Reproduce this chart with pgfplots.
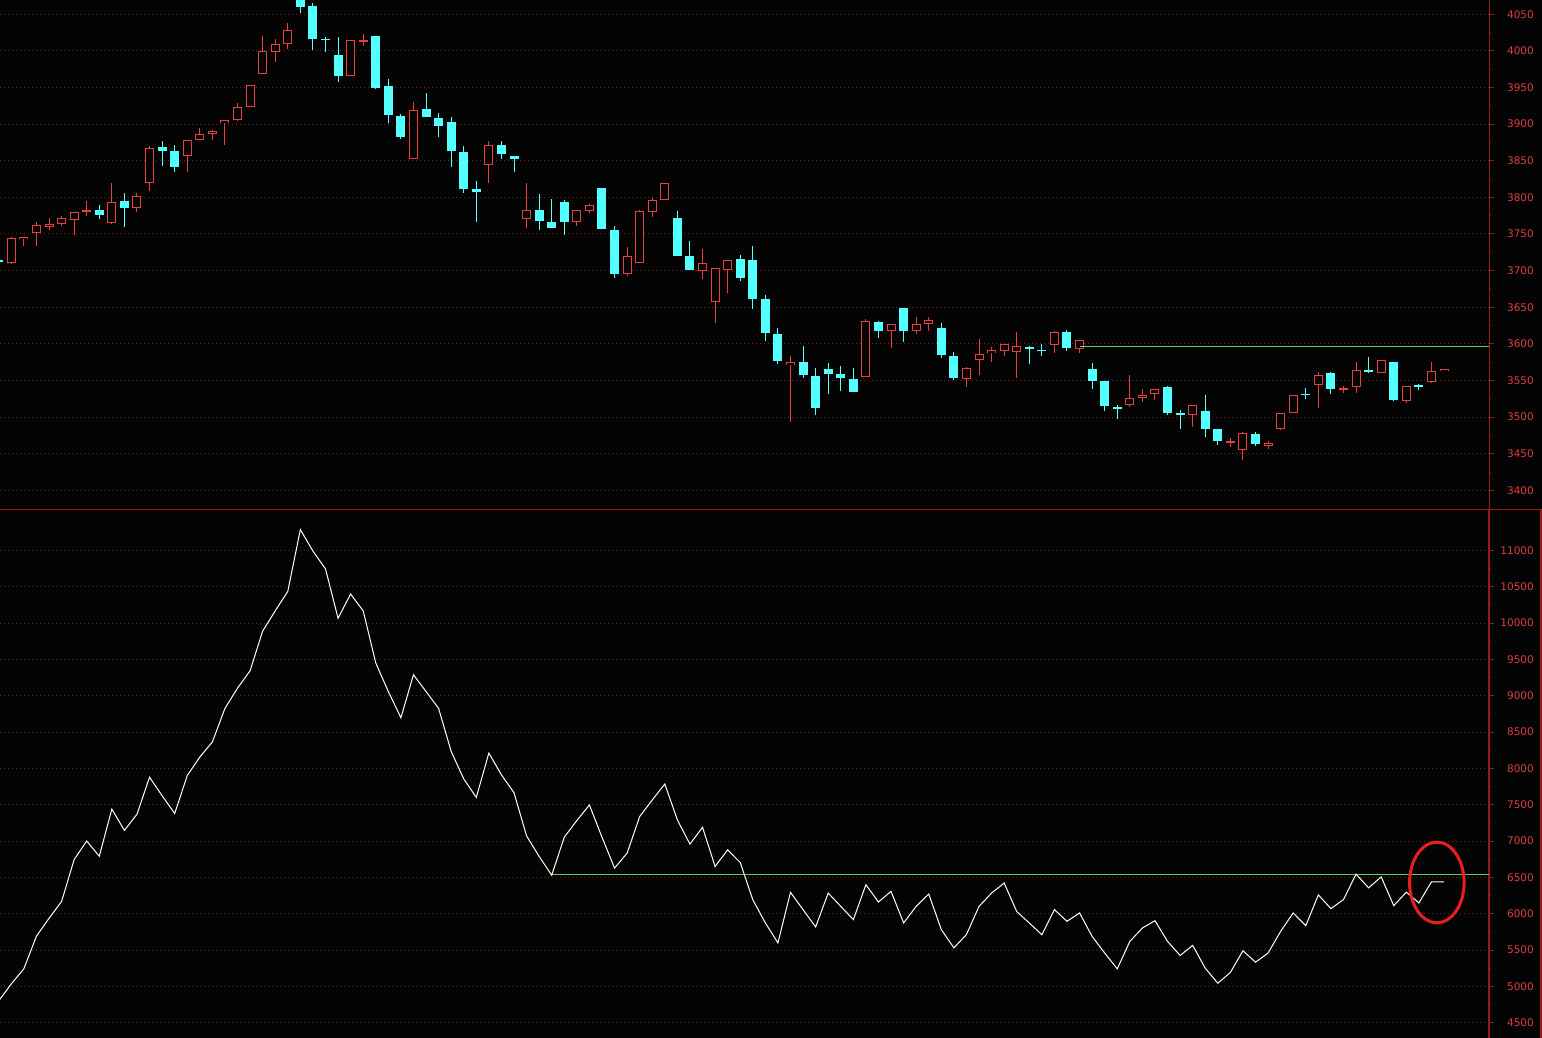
\documentclass[border=0pt]{standalone}
\usepackage{pgfplots}
\pgfplotsset{compat=1.18}
\usepackage{pgfplotstable}
\usepackage{fontspec}
\setmainfont{DejaVu Sans}

\definecolor{upred}{RGB}{235,62,62}
\definecolor{downcyan}{RGB}{84,255,255}
\definecolor{axisred}{RGB}{150,24,24}
\definecolor{gridred}{RGB}{125,30,30}
\definecolor{labelred}{RGB}{220,62,62}
\definecolor{lvlgreen}{RGB}{96,205,96}
\definecolor{ringred}{RGB}{235,30,30}
\definecolor{bg}{RGB}{4,4,4}

% rising candles (red, hollow)
\pgfplotstableread{
i o h l c
1 3710 3746 3709 3744
2 3743 3746 3734 3746
3 3751 3766 3733 3762
4 3760 3772 3756 3764
5 3763 3774 3761 3772
6 3769 3780 3748 3780
7 3781.5 3795 3774 3782.5
9 3765 3820 3763 3794
11 3785 3806 3780 3802
12 3819 3870 3809 3868
15 3856 3878 3835 3878
16 3878 3895 3878 3886
17 3887 3892 3879 3891
18 3901 3905 3872 3905
19 3905 3929 3904 3924
20 3923 3953 3923 3953
21 3968 4020 3968 4000
22 3999 4016 3985 4010
23 4010 4038 4003 4028
28 3966 4015 3966 4015
29 4013.5 4023 4007 4014.5
33 3853 3930 3853 3919
39 3844 3877 3819 3871.5
42 3770 3819 3758 3783
46 3766 3783 3761 3783
47 3781 3790.5 3779 3789
50 3695 3732 3692 3719.5
51 3711 3783 3711 3781
52 3780 3799 3773 3797
53 3796 3819 3796 3819
56 3700 3729 3688 3710
57 3657 3703 3629 3703
58 3701 3715 3669 3715
63 3571 3583 3493 3575
69 3555 3634 3555 3631
71 3617 3627 3595 3626.5
73 3617 3636.5 3613 3627.5
74 3627.5 3637 3617 3633
77 3551.5 3568 3541.5 3567.5
78 3578.5 3607 3557 3586
79 3587 3596 3575 3591
80 3590 3600 3583 3600
81 3588.5 3616 3553 3597
84 3598 3617.4 3588 3616
86 3593 3605 3587 3605
90 3516.5 3558 3514 3526.5
91 3526 3539 3520.6 3530.5
92 3531.5 3539 3524 3539
95 3502.5 3517 3486 3517
98 3466 3472 3459.5 3466.5
99 3455 3479 3441.7 3477.6
101 3461 3466.7 3456.7 3465.3
102 3484 3506 3482.5 3506
103 3505.7 3530.6 3505.7 3530.6
105 3543.8 3562 3512.5 3557.8
107 3538 3543 3533 3538.5
108 3541 3574.6 3533 3564.6
110 3560 3578 3560 3578
112 3522 3543 3519.7 3543
114 3548 3574.6 3546 3563
115 3563 3566 3563 3566
}\upbars

% falling candles (cyan, filled)
\pgfplotstableread{
i o h l c
0 3714 3715 3711 3712
8 3783 3789 3770 3776
10 3795 3806 3760 3786
13 3869 3877 3843 3864
14 3864 3872 3834 3842
24 4075 4080 4052 4060
25 4061 4066 4001 4016
26 4016.5 4019 3998 4015.5
27 3995 4019 3958 3966
30 4020 4020 3948 3950
31 3952 3962 3901 3912
32 3911 3914 3880 3883
34 3920 3943 3910 3910
35 3909 3915 3882 3898
36 3903 3910 3841 3863
37 3862 3870 3806 3811
38 3812 3823 3767 3807
40 3871.5 3877 3853 3859
41 3857 3857 3834 3852
43 3783 3805 3756 3768
44 3767 3798 3758 3758
45 3794 3796 3749 3767
48 3813 3813 3757 3757
49 3756 3761 3690 3696
54 3771.5 3782 3720 3720
55 3719.5 3741 3701 3701
59 3716 3722 3686 3690
60 3714 3734 3648 3661
61 3661 3667 3604 3615
62 3614 3622 3573 3576
64 3575 3597 3554 3557
65 3556 3567 3503 3512
66 3566 3574 3531 3559.5
67 3559 3570 3535 3553
68 3552 3567 3534 3534
70 3630 3631 3608 3617
72 3649 3649 3603 3618
75 3621 3628 3581 3585
76 3584 3588.5 3551 3554
82 3595.7 3597 3572 3592.5
83 3591.5 3600 3584 3591
85 3616.5 3619 3590 3594
87 3566 3574 3538 3549
88 3549 3549 3508 3515
89 3513 3517 3497 3512.5
93 3541 3543 3503 3505
94 3505 3510 3483.5 3504.5
96 3509 3530 3473 3484
97 3483.5 3483.5 3462 3467.6
100 3477.6 3479 3461 3463.5
104 3531.7 3540 3524.3 3531.2
106 3559.6 3562 3531.5 3538
109 3564.6 3582 3560 3561.5
111 3574.6 3574.6 3521.5 3524
113 3543.3 3545 3537 3541
}\downbars

% lower panel line
\pgfplotstableread{
i v
0 4800
1 5034
2 5242
3 5690
4 5936
5 6167
6 6745
7 7000
8 6791
9 7439
10 7147
11 7369
12 7878
13 7624
14 7379
15 7901
16 8156
17 8364
18 8826
19 9104
20 9344
21 9890
22 10168
23 10436
24 11287
25 10991
26 10746
27 10066
28 10399
29 10168
30 9451
31 9058
32 8697
33 9289
34 9058
35 8826
36 8234
37 7855
38 7601
39 8211
40 7911
41 7665
42 7071
43 6788
44 6530
45 7053
46 7282
47 7497
48 7053
49 6628
50 6833
51 7337
52 7565
53 7785
54 7291
55 6957
56 7190
57 6650
58 6879
59 6705
60 6193
61 5873
62 5598
63 6294
64 6056
65 5818
66 6284
67 6101
68 5918
69 6399
70 6161
71 6307
72 5873
73 6101
74 6271
75 5781
76 5530
77 5713
78 6101
79 6284
80 6422
81 6030
82 5872
83 5711
84 6056
85 5895
86 6010
87 5688
88 5458
89 5241
90 5619
91 5803
92 5904
93 5619
94 5425
95 5564
96 5250
97 5043
98 5191
99 5490
100 5333
101 5458
102 5757
103 6010
104 5835
105 6259
106 6070
107 6194
108 6545
109 6355
110 6507
111 6111
112 6296
113 6148
114 6438
115 6438
}\lineval

\pgfplotsset{
  panel/.style={
    scale only axis, width=1489pt,
    xmin=0.101, xmax=118.58,
    axis x line=none, axis y line*=right,
    axis line style={axisred, line width=1pt},
    xtick=\empty,
    tick align=outside, major tick length=5pt, minor tick length=2pt,
    minor y tick num=1,
    major tick style={axisred, line width=1pt},
    minor tick style={axisred, line width=1pt},
    ymajorgrids,
    grid style={gridred, line width=1pt, dash pattern=on 1pt off 3pt},
    yticklabel style={font=\fontsize{10.5}{12}\selectfont, text=labelred,
      anchor=east, inner sep=0pt, xshift=40pt},
    /pgf/number format/1000 sep={},
    /pgf/number format/assume math mode=true,
    scaled y ticks=false,
  },
  % a plot that shows nothing but its error bars
  bars only/.style={only marks, mark=*, mark size=0pt,
    mark options={draw=none, fill=none}},
}

\begin{document}
\begin{tikzpicture}
\fill[bg] (0pt,0pt) rectangle (1542pt,-1038pt);
\useasboundingbox (0pt,0pt) rectangle (1542pt,-1038pt);

\begin{axis}[panel, at={(0pt,0pt)}, anchor=north west, height=509pt,
    ymin=3374.5, ymax=4069.5, ytick={3400,3450,...,4050}]
  % wicks
  \addplot[bars only, error bars/.cd, y dir=both, y explicit, error mark=none,
    error bar style={draw=downcyan, line width=1pt}]
    table[x=i, y expr={(\thisrow{h}+\thisrow{l})/2}, y error expr={(\thisrow{h}-\thisrow{l})/2}] {\downbars};
  \addplot[bars only, error bars/.cd, y dir=both, y explicit, error mark=none,
    error bar style={draw=upred, line width=1pt}]
    table[x=i, y expr={(\thisrow{h}+\thisrow{l})/2}, y error expr={(\thisrow{h}-\thisrow{l})/2}] {\upbars};
  % bodies
  \addplot[bars only, error bars/.cd, y dir=both, y explicit, error mark=none,
    error bar style={draw=downcyan, line width=9pt}]
    table[x=i, y expr={(\thisrow{o}+\thisrow{c})/2}, y error expr={max(abs(\thisrow{o}-\thisrow{c})/2,0.7)}] {\downbars};
  \addplot[bars only, error bars/.cd, y dir=both, y explicit, error mark=none,
    error bar style={draw=upred, line width=9pt}]
    table[x=i, y expr={(\thisrow{o}+\thisrow{c})/2}, y error expr={max(abs(\thisrow{o}-\thisrow{c})/2,0.8)}] {\upbars};
  \addplot[bars only, error bars/.cd, y dir=both, y explicit, error mark=none,
    error bar style={draw=bg, line width=7pt}]
    table[x=i, y expr={(\thisrow{o}+\thisrow{c})/2}, y error expr={max(abs(\thisrow{o}-\thisrow{c})/2-1.366,0)}] {\upbars};
  % level line
  \addplot[lvlgreen, line width=1pt] coordinates {(86,3596) (118.58,3596)};
\end{axis}

\begin{axis}[panel, at={(0pt,-509pt)}, anchor=north west, height=529pt,
    axis line style={axisred, line width=2pt},
    ymin=4289, ymax=11570, ytick={4500,5000,...,11000}]
  \addplot[lvlgreen, line width=1pt] coordinates {(44,6540) (118.58,6540)};
  \addplot[white, line width=1pt, mark=none] table[x=i, y=v] {\lineval};
  \draw[ringred, line width=3pt] (axis cs:114.43,6430) ellipse [x radius=2.17, y radius=555];
\end{axis}

\draw[axisred, line width=1pt] (0pt,-509.5pt) -- (1542pt,-509.5pt);
\draw[axisred, line width=2pt] (1541pt,-509pt) -- (1541pt,-1038pt);
\end{tikzpicture}
\end{document}
